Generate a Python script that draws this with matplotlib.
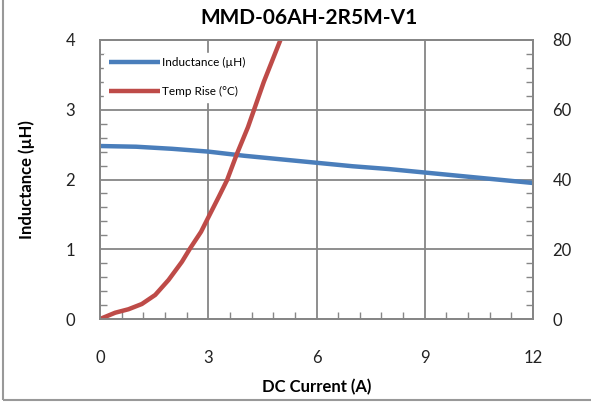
import matplotlib
matplotlib.use("Agg")
import matplotlib.pyplot as plt
from matplotlib.patches import Rectangle
from matplotlib.ticker import MultipleLocator

plt.rcParams['font.family'] = ['Lato', 'DejaVu Sans']

# data
current_l = [0, 1, 2, 3, 4, 5, 6, 7, 8, 9, 10, 11, 12]
inductance = [2.48, 2.47, 2.44, 2.40, 2.34, 2.29, 2.24, 2.19, 2.15, 2.10, 2.05, 2.00, 1.95]

current_t = [0, 0.42, 0.79, 1.16, 1.53, 1.9, 2.27, 2.5, 2.8, 3.01, 3.29, 3.52,
             3.8, 4.1, 4.54, 5.0]
temp_rise = [0, 1.8, 2.8, 4.3, 6.9, 11.2, 16.4, 20.3, 25.0, 29.3, 35.0, 39.8,
             47.5, 55.0, 68.0, 80.0]

x_ticks = [0, 3, 6, 9, 12]
y_ticks = [0, 1, 2, 3, 4]
y2_ticks = [0, 20, 40, 60, 80]

blue = '#4A7EBB'
red = '#BE4B48'
gray = '#868686'

fig = plt.figure(figsize=(5.91, 4.05), dpi=100)
ax = fig.add_axes([100/591, 86/405, 433/591, 279/405])
ax2 = ax.twinx()

l1, = ax.plot(current_l, inductance, color=blue, lw=3.2, label='Inductance (µH)',
              solid_capstyle='butt', solid_joinstyle='round')
l2, = ax2.plot(current_t, temp_rise, color=red, lw=3.2, label='Temp Rise (°C)',
               solid_capstyle='butt', solid_joinstyle='round')

ax.set_xlim(0, 12)
ax.set_ylim(0, 4)
ax2.set_ylim(0, 80)
ax.set_xticks(x_ticks)
ax.set_yticks(y_ticks)
ax2.set_yticks(y2_ticks)
ax.xaxis.set_minor_locator(MultipleLocator(0.6))
ax.yaxis.set_minor_locator(MultipleLocator(0.2))
ax2.yaxis.set_minor_locator(MultipleLocator(4))

ax.grid(True, which='major', color=gray, lw=1.3)
ax.set_axisbelow(True)
for a in (ax, ax2):
    for s in a.spines.values():
        s.set_color(gray)
        s.set_linewidth(1.3)
ax.tick_params(axis='both', which='both', direction='in', color=gray, width=1)
ax.tick_params(axis='both', which='major', length=0, labelsize=12, labelcolor='#222222')
ax.tick_params(axis='both', which='minor', length=5)
ax.tick_params(axis='x', which='major', pad=22)
ax.tick_params(axis='y', which='major', pad=18)
ax2.tick_params(axis='y', which='both', direction='in', color=gray, width=1)
ax2.tick_params(axis='y', which='major', length=0, labelsize=12, labelcolor='#222222', pad=14)
ax2.tick_params(axis='y', which='minor', length=5)

ax.set_xlabel('DC Current (A)', fontsize=12, fontweight='bold', labelpad=10)
ax.set_ylabel('Inductance (µH)', fontsize=12, fontweight='bold', labelpad=22)
fig.text(309/591, 1 - 18/405, 'MMD-06AH-2R5M-V1', ha='center', va='center',
         fontsize=15, fontweight='bold')

leg = ax2.legend(handles=[l1, l2], loc='upper left', bbox_to_anchor=(0.01, 0.955),
                 fontsize=8.5, frameon=True, handlelength=4.3, handletextpad=0.2,
                 labelspacing=1.5, borderaxespad=0)
leg.get_frame().set_edgecolor('white')
leg.get_frame().set_facecolor('white')
leg.get_frame().set_alpha(1)

fig.patches.append(Rectangle((3/591, 5/405), 1.2, 1.2, transform=fig.transFigure,
                             fill=False, edgecolor='#999999', lw=1.5))

fig.savefig('out.png', dpi=100)
